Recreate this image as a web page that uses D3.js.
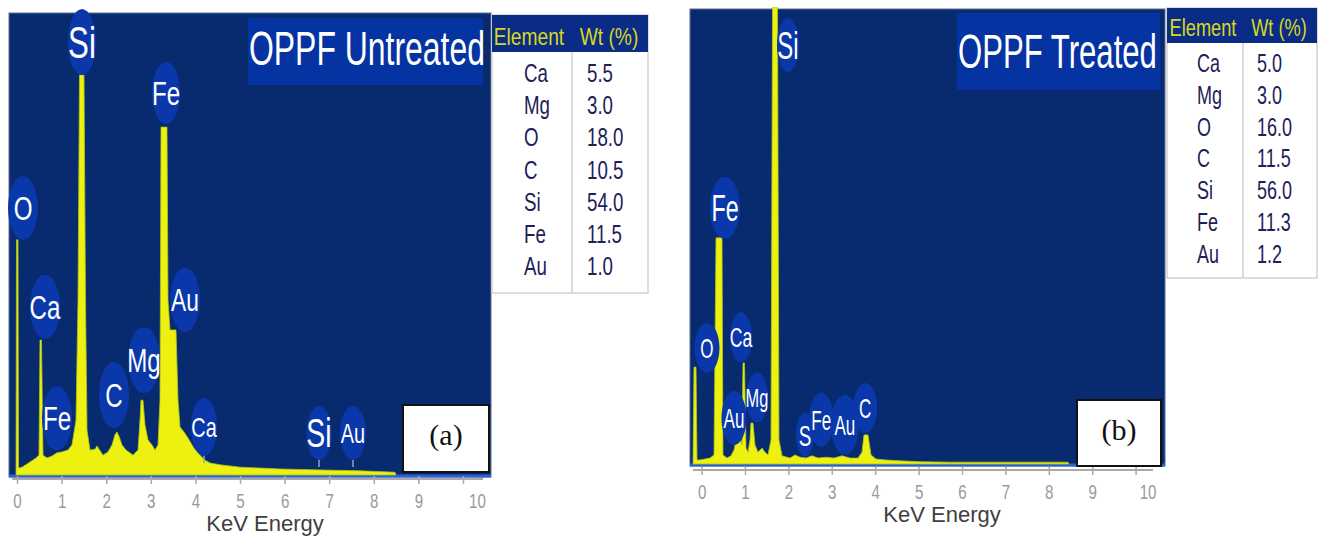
<!DOCTYPE html>
<html>
<head>
<meta charset="utf-8">
<script src="https://cdn.jsdelivr.net/npm/d3@7"></script>
<style>
  body { margin: 0; background: #ffffff; }
  svg { display: block; }
</style>
</head>
<body>
<svg id="chart" width="1320" height="541"></svg>
<script>
// EDS spectra of oil palm pressed fibre (OPPF), untreated and treated,
// each with its elemental composition table.

// ---- data ----------------------------------------------------------------
const energyTicks = [0, 1, 2, 3, 4, 5, 6, 7, 8, 9, 10];
const tableElements = ["Ca", "Mg", "O", "C", "Si", "Fe", "Au"];
const wtUntreated = [5.5, 3.0, 18.0, 10.5, 54.0, 11.5, 1.0];
const wtTreated = [5.0, 3.0, 16.0, 11.5, 56.0, 11.3, 1.2];

// spectrum outline: [energy keV, relative counts]
const spectrumUntreated = [
  [-0.022, 0], [-0.022, 1.1], [-0.011, 50.9], [0.022, 50.9], [0.034, 1.5], [0.112, 1.7],
  [0.291, 2.8], [0.426, 3.7], [0.493, 4.3], [0.516, 29.2], [0.549, 29.2], [0.583, 4.3],
  [0.673, 3.7], [0.785, 4.1], [0.897, 4.8], [1.009, 5.0], [1.143, 5.4], [1.233, 6.5],
  [1.323, 11.9], [1.368, 37.9], [1.401, 86.6], [1.502, 86.6], [1.536, 37.9], [1.570, 9.7],
  [1.637, 5.4], [1.749, 5.6], [1.794, 6.3], [1.839, 5.6], [1.928, 4.3], [2.040, 5.0],
  [2.130, 6.5], [2.197, 8.7], [2.242, 9.3], [2.287, 8.4], [2.354, 6.5], [2.444, 5.4],
  [2.601, 4.3], [2.713, 5.4], [2.758, 11.9], [2.780, 16.2], [2.825, 16.2], [2.870, 10.8],
  [2.937, 7.6], [3.027, 6.5], [3.094, 5.4], [3.161, 6.5], [3.206, 16.2], [3.229, 75.3],
  [3.363, 75.3], [3.386, 37.9], [3.430, 31.4], [3.565, 31.4], [3.610, 16.2], [3.655, 10.4],
  [3.744, 9.3], [3.834, 8.0], [3.969, 5.8], [4.103, 4.3], [4.215, 3.2], [4.327, 2.6],
  [4.552, 2.2], [5.000, 1.7], [5.897, 1.3], [6.794, 1.1], [7.691, 0.9], [8.475, 0.6],
  [8.498, 0]
];
const spectrumTreated = [
  [-0.198, 0], [-0.175, 21.3], [-0.129, 21.3], [-0.106, 0.9], [-0.037, 0.9], [0.078, 1.1],
  [0.194, 1.3], [0.286, 2.0], [0.332, 49.7], [0.470, 49.7], [0.493, 2.0], [0.585, 1.3],
  [0.677, 1.8], [0.747, 3.1], [0.816, 6.2], [0.885, 6.2], [0.931, 4.2], [0.954, 22.2],
  [0.988, 22.2], [1.023, 3.5], [1.069, 2.6], [1.115, 5.3], [1.138, 9.0], [1.184, 9.0],
  [1.230, 4.2], [1.300, 2.6], [1.392, 3.5], [1.461, 2.6], [1.530, 2.0], [1.599, 5.3],
  [1.634, 100.5], [1.749, 100.5], [1.783, 5.3], [1.853, 1.8], [2.037, 1.3], [2.152, 2.0],
  [2.267, 1.5], [2.406, 1.3], [2.544, 1.8], [2.682, 1.3], [2.866, 1.5], [3.051, 1.3],
  [3.235, 1.8], [3.419, 1.3], [3.604, 1.3], [3.696, 2.6], [3.742, 6.4], [3.834, 6.4],
  [3.903, 2.0], [4.018, 1.1], [4.226, 0.9], [4.571, 0.7], [5.032, 0.5], [5.724, 0.4],
  [6.876, 0.4], [8.442, 0.4], [8.465, 0]
];

// peak labels: element, energy (keV) and counts of the label centre
const peaksUntreated = [
  { el: "O",  kev: 0.135, cnt: 57.8 },
  { el: "Si", kev: 1.457, cnt: 93.7 },
  { el: "Fe", kev: 3.341, cnt: 82.7 },
  { el: "Ca", kev: 0.628, cnt: 36.4 },
  { el: "Au", kev: 3.767, cnt: 37.9 },
  { el: "Mg", kev: 2.848, cnt: 24.9 },
  { el: "C",  kev: 2.175, cnt: 17.3 },
  { el: "Fe", kev: 0.897, cnt: 12.3 },
  { el: "Ca", kev: 4.193, cnt: 10.4 },
  { el: "Si", kev: 6.771, cnt: 9.1 },
  { el: "Au", kev: 7.534, cnt: 9.1 }
];
const peaksTreated = [
  { el: "O",  kev: 0.124, cnt: 25.5 },
  { el: "Ca", kev: 0.908, cnt: 27.9 },
  { el: "Fe", kev: 0.539, cnt: 56.3 },
  { el: "Si", kev: 1.991, cnt: 92.1 },
  { el: "Mg", kev: 1.276, cnt: 14.6 },
  { el: "Au", kev: 0.746, cnt: 10.1 },
  { el: "S",  kev: 2.382, cnt: 6.4 },
  { el: "Fe", kev: 2.755, cnt: 9.7 },
  { el: "Au", kev: 3.302, cnt: 8.6 },
  { el: "C",  kev: 3.770, cnt: 12.3 }
];

// ---- styles ----------------------------------------------------------------
// bubble sizes for each label: [rx, ry, font size, stem]
const bubbleUntreated = [
  [15, 32, 34, 0], [14, 33, 44, 0], [14, 31, 34, 0], [15, 32, 34, 0], [15, 32, 32, 0],
  [16, 33, 34, 0], [15, 33, 34, 0], [15, 32, 34, 0], [13, 29, 28, 7], [12.5, 27, 40, 7],
  [13, 27, 28, 7]
];
const bubbleTreated = [
  [12.5, 25, 27, 0], [11, 25, 28, 0], [15, 31, 37, 0], [11, 27, 38, 0], [11, 25, 26, 0],
  [12.5, 27, 27, 0], [9, 22, 30, 0], [12.5, 27, 27, 0], [14, 30, 27, 0], [12, 25, 27, 0]
];

const C = {
  bg: "#082a6e",
  bubble: "#0a38aa",
  titleBox: "#0533a2",
  spectrum: "#eef010",
  spectrumEdge: "#a9c41c",
  baseline: "#2a62d8",
  axis: "#a9a9a9",
  tickText: "#9a9a9a",
  axisTitle: "#404040",
  head: "#0b2c86",
  headText: "#d8d820",
  cellText: "#1e2058",
  grid: "#d2d2d2"
};

const panels = [
  {
    title: "OPPF Untreated", tag: "(a)",
    spectrum: spectrumUntreated, peaks: peaksUntreated, bubbles: bubbleUntreated, wt: wtUntreated,
    plot: { x0: 9, x1: 491, y0: 13, y1: 475 }, xRange: [17, 463],
    axisY: 479, axisLine: [12, 483], tickLabelY: 508, lastTickDx: 14,
    axisTitle: { x: 265, y: 531 }, labelSx: 0.71,
    titleBox: { x: 248, y: 18, w: 235, h: 67 }, titleText: { x: 249, y: 65, len: 236 },
    tagBox: { x: 403, y: 405, w: 86, h: 67 }, tagText: { x: 446, y: 445 },
    table: { x: 492, y: 15, w: 156, hh: 37, bottom: 293, div: 572, elX: 524, valX: 587,
             row0: 82, dy: 32.2, headY: 45, headEl: 529, headWt: 609, headSx: 0.8, fs: 26 }
  },
  {
    title: "OPPF Treated", tag: "(b)",
    spectrum: spectrumTreated, peaks: peaksTreated, bubbles: bubbleTreated, wt: wtTreated,
    plot: { x0: 690, x1: 1165, y0: 9, y1: 464 }, xRange: [701.6, 1135.6],
    axisY: 470, axisLine: [693, 1153], tickLabelY: 499, lastTickDx: 12,
    axisTitle: { x: 942, y: 522 }, labelSx: 0.63,
    titleBox: { x: 957, y: 13, w: 203, h: 77 }, titleText: { x: 958, y: 68, len: 199 },
    tagBox: { x: 1077, y: 400, w: 84, h: 66 }, tagText: { x: 1119, y: 440 },
    table: { x: 1167, y: 8, w: 150, hh: 35, bottom: 278, div: 1243, elX: 1197, valX: 1257,
             row0: 72, dy: 31.8, headY: 36, headEl: 1203, headWt: 1279, headSx: 0.76, fs: 25 }
  }
];

// ---- drawing -------------------------------------------------------------
const svg = d3.select("#chart");
const SANS = "'Liberation Sans', Arial, Helvetica, sans-serif";

// condensed text drawn with a horizontal squeeze
function narrowText(parent, str, x, y, fs, sx, anchor, fill) {
  return parent.append("text")
    .attr("transform", `translate(${x},${y}) scale(${sx},1)`)
    .attr("text-anchor", anchor)
    .attr("font-family", SANS)
    .attr("font-size", fs)
    .attr("fill", fill)
    .text(str);
}

panels.forEach((p, pi) => {
  const g = svg.append("g");
  const x = d3.scaleLinear().domain([0, 10]).range(p.xRange);
  const y = d3.scaleLinear().domain([0, 100]).range([p.plot.y1, p.plot.y0]);

  // plot background
  g.append("rect")
    .attr("x", p.plot.x0).attr("y", p.plot.y0)
    .attr("width", p.plot.x1 - p.plot.x0).attr("height", p.plot.y1 - p.plot.y0 + 2)
    .attr("fill", C.bg).attr("stroke", "#5b6f92").attr("stroke-width", 1);

  const clipId = "clip" + pi;
  g.append("clipPath").attr("id", clipId)
    .append("rect")
    .attr("x", p.plot.x0).attr("y", p.plot.y0 - 2)
    .attr("width", p.plot.x1 - p.plot.x0).attr("height", p.plot.y1 - p.plot.y0 + 4);

  // bright baseline strip
  g.append("line")
    .attr("x1", p.plot.x0).attr("x2", p.plot.x1)
    .attr("y1", y(0) + 1).attr("y2", y(0) + 1)
    .attr("stroke", C.baseline).attr("stroke-width", 3);

  // spectrum
  const area = d3.area()
    .x(d => x(d[0]))
    .y0(y(0))
    .y1(d => y(d[1]));
  g.append("path")
    .datum(p.spectrum)
    .attr("clip-path", `url(#${clipId})`)
    .attr("d", area)
    .attr("fill", C.spectrum)
    .attr("stroke", C.spectrumEdge)
    .attr("stroke-width", 0.8)
    .attr("stroke-linejoin", "round");

  // title box, title squeezed to the box width
  g.append("rect")
    .attr("x", p.titleBox.x).attr("y", p.titleBox.y)
    .attr("width", p.titleBox.w).attr("height", p.titleBox.h)
    .attr("fill", C.titleBox);
  const tt = narrowText(g, p.title, p.titleText.x, p.titleText.y, 48, 1, "start", "#ffffff");
  const tw = tt.node().getComputedTextLength();
  tt.attr("transform", `translate(${p.titleText.x},${p.titleText.y}) scale(${p.titleText.len / tw},1)`);

  // peak label bubbles
  p.peaks.forEach((pk, i) => {
    const [rx, ry, fs, stem] = p.bubbles[i];
    const cx = x(pk.kev), cy = y(pk.cnt);
    const lg = g.append("g");
    if (stem) {
      lg.append("line")
        .attr("x1", cx).attr("x2", cx)
        .attr("y1", cy + ry - 2).attr("y2", cy + ry + stem)
        .attr("stroke", "#8ea6c8").attr("stroke-width", 1.5);
    }
    lg.append("ellipse")
      .attr("cx", cx).attr("cy", cy).attr("rx", rx).attr("ry", ry)
      .attr("fill", C.bubble);
    narrowText(lg, pk.el, cx, cy + 0.36 * fs, fs, p.labelSx, "middle", "#ffffff");
  });

  // sample tag box
  g.append("rect")
    .attr("x", p.tagBox.x).attr("y", p.tagBox.y)
    .attr("width", p.tagBox.w).attr("height", p.tagBox.h)
    .attr("fill", "#ffffff").attr("stroke", "#111111").attr("stroke-width", 2);
  g.append("text")
    .attr("x", p.tagText.x).attr("y", p.tagText.y)
    .attr("text-anchor", "middle")
    .attr("font-family", "'Liberation Serif', 'Times New Roman', serif")
    .attr("font-size", 30).attr("fill", "#111111")
    .text(p.tag);

  // energy axis
  const axis = d3.axisBottom(x).tickValues(energyTicks).tickSize(8).tickSizeOuter(0);
  const ag = g.append("g")
    .attr("transform", `translate(0,${p.axisY - 3})`)
    .call(axis);
  ag.select(".domain").remove();
  ag.selectAll(".tick line").attr("stroke", C.axis).attr("stroke-width", 1.5);
  ag.selectAll(".tick text")
    .attr("y", 0).attr("dy", null)
    .attr("transform", (d, i, n) =>
      `translate(${i === n.length - 1 ? p.lastTickDx : 0},${p.tickLabelY - p.axisY + 3}) scale(0.72,1)`)
    .attr("font-family", SANS).attr("font-size", 21)
    .attr("fill", C.tickText);
  g.append("line")
    .attr("x1", p.axisLine[0]).attr("x2", p.axisLine[1])
    .attr("y1", p.axisY).attr("y2", p.axisY)
    .attr("stroke", C.axis).attr("stroke-width", 2);
  g.append("text")
    .attr("x", p.axisTitle.x).attr("y", p.axisTitle.y)
    .attr("text-anchor", "middle")
    .attr("font-family", SANS).attr("font-size", 22)
    .attr("fill", C.axisTitle)
    .text("KeV Energy");

  // composition table
  const t = p.table;
  g.append("rect")
    .attr("x", t.x).attr("y", t.y).attr("width", t.w).attr("height", t.bottom - t.y)
    .attr("fill", "#ffffff").attr("stroke", C.grid).attr("stroke-width", 1.5);
  g.append("rect")
    .attr("x", t.x).attr("y", t.y).attr("width", t.w).attr("height", t.hh)
    .attr("fill", C.head);
  g.append("line")
    .attr("x1", t.div).attr("x2", t.div)
    .attr("y1", t.y + t.hh).attr("y2", t.bottom)
    .attr("stroke", C.grid).attr("stroke-width", 1.5);
  narrowText(g, "Element", t.headEl, t.headY, 24, t.headSx, "middle", C.headText);
  narrowText(g, "Wt (%)", t.headWt, t.headY, 24, t.headSx, "middle", C.headText);
  tableElements.forEach((el, i) => {
    const ry = t.row0 + i * t.dy;
    narrowText(g, el, t.elX, ry, t.fs, 0.72, "start", C.cellText);
    narrowText(g, p.wt[i].toFixed(1), t.valX, ry, t.fs, 0.72, "start", C.cellText);
  });
});
</script>
</body>
</html>
